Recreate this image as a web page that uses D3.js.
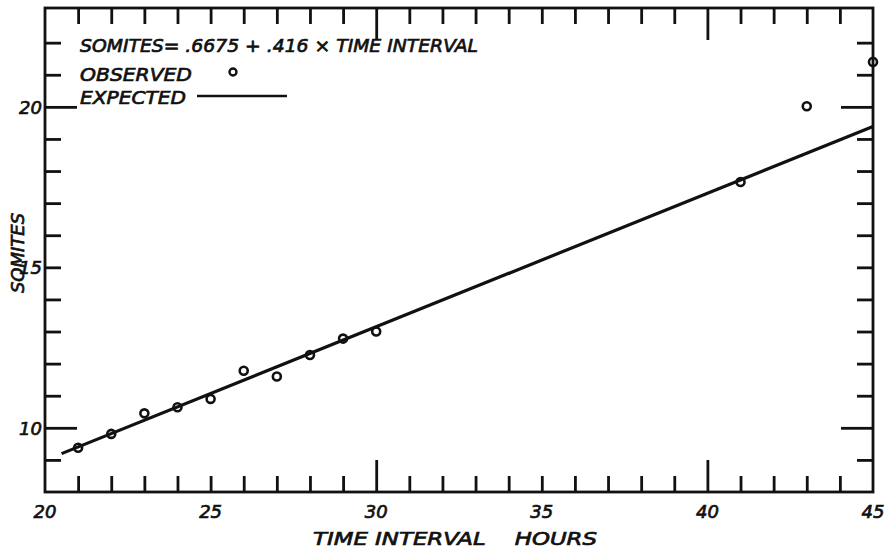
<!DOCTYPE html>
<html><head><meta charset="utf-8">
<script src="https://cdn.jsdelivr.net/npm/d3@7"></script>
<style>
html,body{margin:0;padding:0;background:#fff;}
text{font-family:"DejaVu Sans",sans-serif;font-style:italic;fill:#111;stroke:#111;stroke-width:0.7px;}
</style></head>
<body><svg id="c" width="890" height="550"></svg>
<script>
// Data
const hours   = [21, 22, 23, 24, 25, 26, 27, 28, 29, 30, 41, 43, 45];
const somites = [9.38, 9.81, 10.45, 10.64, 10.9, 11.78, 11.6, 12.27, 12.78, 13.0, 17.66, 20.02, 21.4];
const intercept = 0.6675, slope = 0.416;
const lineRange = [20.5, 45];
const xTickLabels = [20, 25, 30, 35, 40, 45];
const yTickLabels = [10, 15, 20];
const xMinor = d3.range(21, 45);
const yMinor = d3.range(9, 23);
const xLong = [30, 40], yLong = [10, 20];

(function () {
const svg = d3.select("#c");
const L = 45, R = 873, T = 8, B = 492;
const x = d3.scaleLinear().domain([20, 45]).range([L, R]);
const y = d3.scaleLinear().domain([8, 23.08]).range([B, T]);
const ink = "#111";
const sh = 16, lg = 32;

function styleAxis(g) {
  g.select(".domain").remove();
  g.selectAll(".tick line").attr("stroke", ink).attr("stroke-width", 2.8);
  g.selectAll(".tick text").remove();
}
const gB = svg.append("g").attr("transform", `translate(0,${B})`)
  .call(d3.axisBottom(x).tickValues(xMinor).tickSize(-sh).tickFormat(""));
styleAxis(gB);
gB.selectAll(".tick line").attr("y2", d => xLong.includes(d) ? -lg : -sh);
const gT = svg.append("g").attr("transform", `translate(0,${T})`)
  .call(d3.axisTop(x).tickValues(xMinor).tickSize(-sh).tickFormat(""));
styleAxis(gT);
gT.selectAll(".tick line").attr("y2", d => xLong.includes(d) ? lg : sh);
const gL = svg.append("g").attr("transform", `translate(${L},0)`)
  .call(d3.axisLeft(y).tickValues(yMinor).tickSize(-sh).tickFormat(""));
styleAxis(gL);
gL.selectAll(".tick line").attr("x2", d => yLong.includes(d) ? lg : sh);
const gR = svg.append("g").attr("transform", `translate(${R},0)`)
  .call(d3.axisRight(y).tickValues(yMinor).tickSize(-sh).tickFormat(""));
styleAxis(gR);
gR.selectAll(".tick line").attr("x2", d => yLong.includes(d) ? -lg : -sh);

svg.append("rect").attr("x", L).attr("y", T).attr("width", R - L).attr("height", B - T)
  .attr("fill", "none").attr("stroke", ink).attr("stroke-width", 2.8);

svg.append("g").selectAll("text").data(xTickLabels).join("text")
  .attr("x", d => x(d)).attr("y", 518).attr("text-anchor", "middle")
  .attr("font-size", 18).text(d => d);
svg.append("g").selectAll("text").data(yTickLabels).join("text")
  .attr("x", L - 3).attr("y", d => y(d) + 7).attr("text-anchor", "end")
  .attr("font-size", 18).text(d => d);

svg.append("text").attr("x", 313).attr("y", 545).attr("font-size", 18)
  .attr("textLength", 284).attr("lengthAdjust", "spacingAndGlyphs").attr("xml:space", "preserve")
  .text("TIME INTERVAL    HOURS");
svg.append("text").attr("transform", "translate(24,253) rotate(-90)")
  .attr("text-anchor", "middle").attr("font-size", 18).text("SOMITES");

svg.append("line")
  .attr("x1", x(lineRange[0])).attr("y1", y(intercept + slope * lineRange[0]))
  .attr("x2", x(lineRange[1])).attr("y2", y(intercept + slope * lineRange[1]))
  .attr("stroke", ink).attr("stroke-width", 3.2);

svg.append("g").selectAll("circle").data(hours.map((h, i) => [h, somites[i]])).join("circle")
  .attr("cx", d => x(d[0])).attr("cy", d => y(d[1])).attr("r", 4)
  .attr("fill", "none").attr("stroke", ink).attr("stroke-width", 2.6);

svg.append("text").attr("x", 80).attr("y", 52).attr("font-size", 18)
  .attr("textLength", 398).attr("lengthAdjust", "spacingAndGlyphs")
  .text("SOMITES= .6675 + .416 × TIME INTERVAL");
svg.append("text").attr("x", 80).attr("y", 81).attr("font-size", 18)
  .attr("textLength", 112).attr("lengthAdjust", "spacingAndGlyphs").text("OBSERVED");
svg.append("circle").attr("cx", 233).attr("cy", 72).attr("r", 3.5)
  .attr("fill", "none").attr("stroke", ink).attr("stroke-width", 2.4);
svg.append("text").attr("x", 80).attr("y", 104).attr("font-size", 18)
  .attr("textLength", 106).attr("lengthAdjust", "spacingAndGlyphs").text("EXPECTED");
svg.append("line").attr("x1", 197).attr("y1", 96).attr("x2", 287).attr("y2", 96)
  .attr("stroke", ink).attr("stroke-width", 2.6);
})();
</script></body></html>
